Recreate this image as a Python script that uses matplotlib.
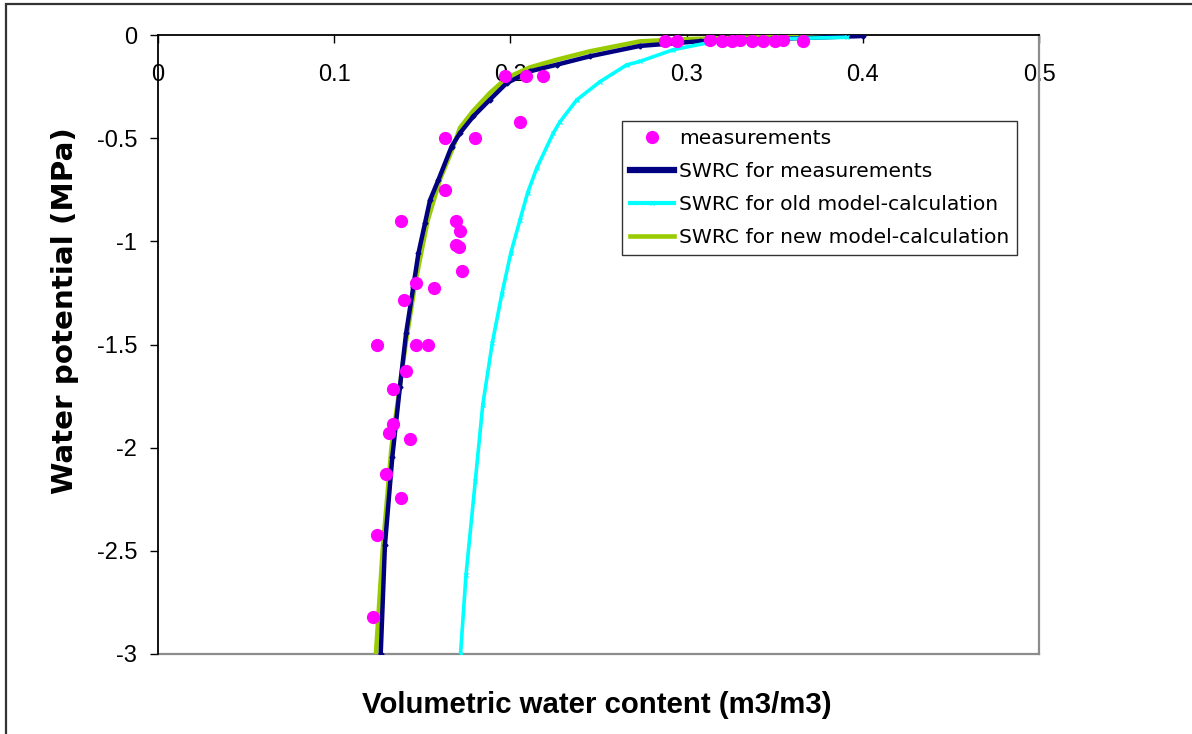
import matplotlib
matplotlib.use("Agg")
import matplotlib.pyplot as plt
from matplotlib.patches import Rectangle
from matplotlib.lines import Line2D

plt.rcParams['font.family'] = ['Liberation Sans', 'DejaVu Sans']

# ---- data ----
meas_theta = [0.197, 0.2089, 0.2187, 0.2054, 0.1629, 0.180, 0.1629, 0.1377,
              0.1691, 0.1714, 0.1691, 0.1708, 0.1724, 0.1462, 0.1566, 0.1398,
              0.1241, 0.1462, 0.1534, 0.1407, 0.1336, 0.1336, 0.1313, 0.1430,
              0.1294, 0.1377, 0.1241, 0.1218,
              0.2877, 0.2946, 0.3133, 0.320, 0.3258, 0.3303, 0.337, 0.3434,
              0.350, 0.3547, 0.366]
meas_psi = [-0.197, -0.197, -0.197, -0.42, -0.50, -0.50, -0.75, -0.90,
            -0.90, -0.948, -1.018, -1.026, -1.144, -1.204, -1.225, -1.286,
            -1.50, -1.50, -1.50, -1.627, -1.718, -1.887, -1.931, -1.960,
            -2.130, -2.246, -2.424, -2.82,
            -0.027, -0.027, -0.025, -0.030, -0.027, -0.025, -0.027, -0.027,
            -0.027, -0.025, -0.030]

swrc_meas_theta = [0.400, 0.364, 0.3076, 0.2735, 0.2452, 0.2263, 0.2111, 0.1979,
                   0.1884, 0.1790, 0.1714, 0.1666, 0.1591, 0.1544, 0.1515, 0.1478,
                   0.1449, 0.1408, 0.1373, 0.1330, 0.1288, 0.1264]
swrc_meas_psi = [-0.005, -0.015, -0.030, -0.053, -0.103, -0.144, -0.176, -0.233,
                 -0.313, -0.394, -0.475, -0.541, -0.703, -0.800, -0.913, -1.058,
                 -1.220, -1.446, -1.705, -2.044, -2.472, -3.0]

swrc_old_theta = [0.391, 0.353, 0.330, 0.3114, 0.2925, 0.2735, 0.266, 0.2509,
                  0.2376, 0.2282, 0.2243, 0.2149, 0.2098, 0.2054, 0.2002, 0.1951,
                  0.1897, 0.1843, 0.1801, 0.1748, 0.1717]
swrc_old_psi = [-0.011, -0.018, -0.027, -0.039, -0.071, -0.128, -0.145, -0.226,
                -0.315, -0.420, -0.476, -0.646, -0.764, -0.897, -1.058, -1.257,
                -1.494, -1.793, -2.160, -2.617, -3.0]

swrc_new_theta = [0.390, 0.340, 0.300, 0.2735, 0.2452, 0.2263, 0.2111, 0.1979,
                  0.1884, 0.1790, 0.1714, 0.1672, 0.1600, 0.1530, 0.1460, 0.1405,
                  0.1373, 0.1325, 0.1275, 0.1237]
swrc_new_psi = [-0.005, -0.012, -0.020, -0.031, -0.079, -0.120, -0.157, -0.208,
                -0.281, -0.367, -0.450, -0.550, -0.700, -0.900, -1.200, -1.500,
                -1.700, -2.000, -2.500, -3.0]

x_ticks = [0, 0.1, 0.2, 0.3, 0.4, 0.5]
x_ticklabels = ['0', '0.1', '0.2', '0.3', '0.4', '0.5']
y_ticks = [0, -0.5, -1, -1.5, -2, -2.5, -3]
y_ticklabels = ['0', '-0.5', '-1', '-1.5', '-2', '-2.5', '-3']

labels = ['measurements', 'SWRC for measurements',
          'SWRC for old model-calculation', 'SWRC for new model-calculation']

# ---- figure ----
W, H = 1192, 734
fig = plt.figure(figsize=(W / 100, H / 100), dpi=100)
fig.patch.set_facecolor('white')

def fx(px):
    return px / W

def fy(py):
    return 1 - py / H

# outer border
fig.add_artist(Rectangle((fx(6), fy(760)), fx(1220) - fx(6), fy(4) - fy(760),
                         transform=fig.transFigure, fill=False,
                         edgecolor='#333333', linewidth=1.6))

ax = fig.add_axes([fx(158), fy(654), fx(1039) - fx(158), fy(35) - fy(654)])
ax.set_xlim(0, 0.5)
ax.set_ylim(-3, 0)

navy = '#000080'
cyan = '#00FFFF'
green = '#99CC00'
magenta = '#FF00FF'

ax.plot(swrc_new_theta, swrc_new_psi, color=green, lw=3.3, zorder=3,
        solid_capstyle='butt')
ax.plot(swrc_meas_theta, swrc_meas_psi, color=navy, lw=3.2, zorder=4,
        marker='D', ms=2.5, solid_capstyle='butt')
ax.plot(swrc_old_theta, swrc_old_psi, color=cyan, lw=2.6, zorder=4,
        marker='x', ms=3.5, mew=1, solid_capstyle='butt')
ax.plot(meas_theta, meas_psi, linestyle='none', marker='o', ms=8.5,
        color=magenta, mec=magenta, zorder=5)

# spines
ax.spines['top'].set_visible(False)
ax.spines['bottom'].set_position(('data', 0))
ax.spines['bottom'].set_color('black')
ax.spines['bottom'].set_linewidth(1.3)
ax.spines['left'].set_color('black')
ax.spines['left'].set_linewidth(1.3)
ax.spines['right'].set_color('#8c8c8c')
ax.spines['right'].set_linewidth(1.6)
ax.plot([0, 1], [0, 0], transform=ax.transAxes, color='#8c8c8c', lw=1.6,
        clip_on=False, zorder=2)

ax.set_xticks(x_ticks)
ax.set_xticklabels(x_ticklabels)
ax.set_yticks(y_ticks)
ax.set_yticklabels(y_ticklabels)
ax.tick_params(axis='x', direction='out', length=5.8, width=1, pad=15.2,
               labelsize=17, colors='black')
ax.tick_params(axis='y', direction='out', length=5.8, width=1, pad=9.3,
               labelsize=17, colors='black')
for lab in ax.get_xticklabels():
    lab.set_zorder(1)

fig.text(fx(597), fy(713), 'Volumetric water content (m3/m3)', ha='center',
         va='baseline', fontsize=21.2, fontweight='bold')
fig.text(fx(65), fy(311), 'Water potential (MPa)', ha='center', va='center',
         rotation=90, fontsize=21.2, fontweight='bold',
         family=['DejaVu Sans'])

handles = [
    Line2D([], [], linestyle='none', marker='o', ms=8.5, color=magenta),
    Line2D([], [], color=navy, lw=4.5),
    Line2D([], [], color=cyan, lw=3, marker='x', ms=3, markevery=[1]),
    Line2D([], [], color=green, lw=3.3),
]
leg = ax.legend(handles, labels, loc='upper left',
                bbox_to_anchor=(fx(622), fy(121)),
                bbox_transform=fig.transFigure, borderaxespad=0,
                prop={'family': ['DejaVu Sans'], 'size': 14.6},
                frameon=True, fancybox=False, shadow=False,
                handlelength=2.2, handletextpad=0.25, labelspacing=0.7,
                borderpad=0.38)
leg.get_frame().set_edgecolor('black')
leg.get_frame().set_linewidth(1.0)
leg.set_zorder(10)

fig.savefig('out.png', dpi=100, facecolor='white')
